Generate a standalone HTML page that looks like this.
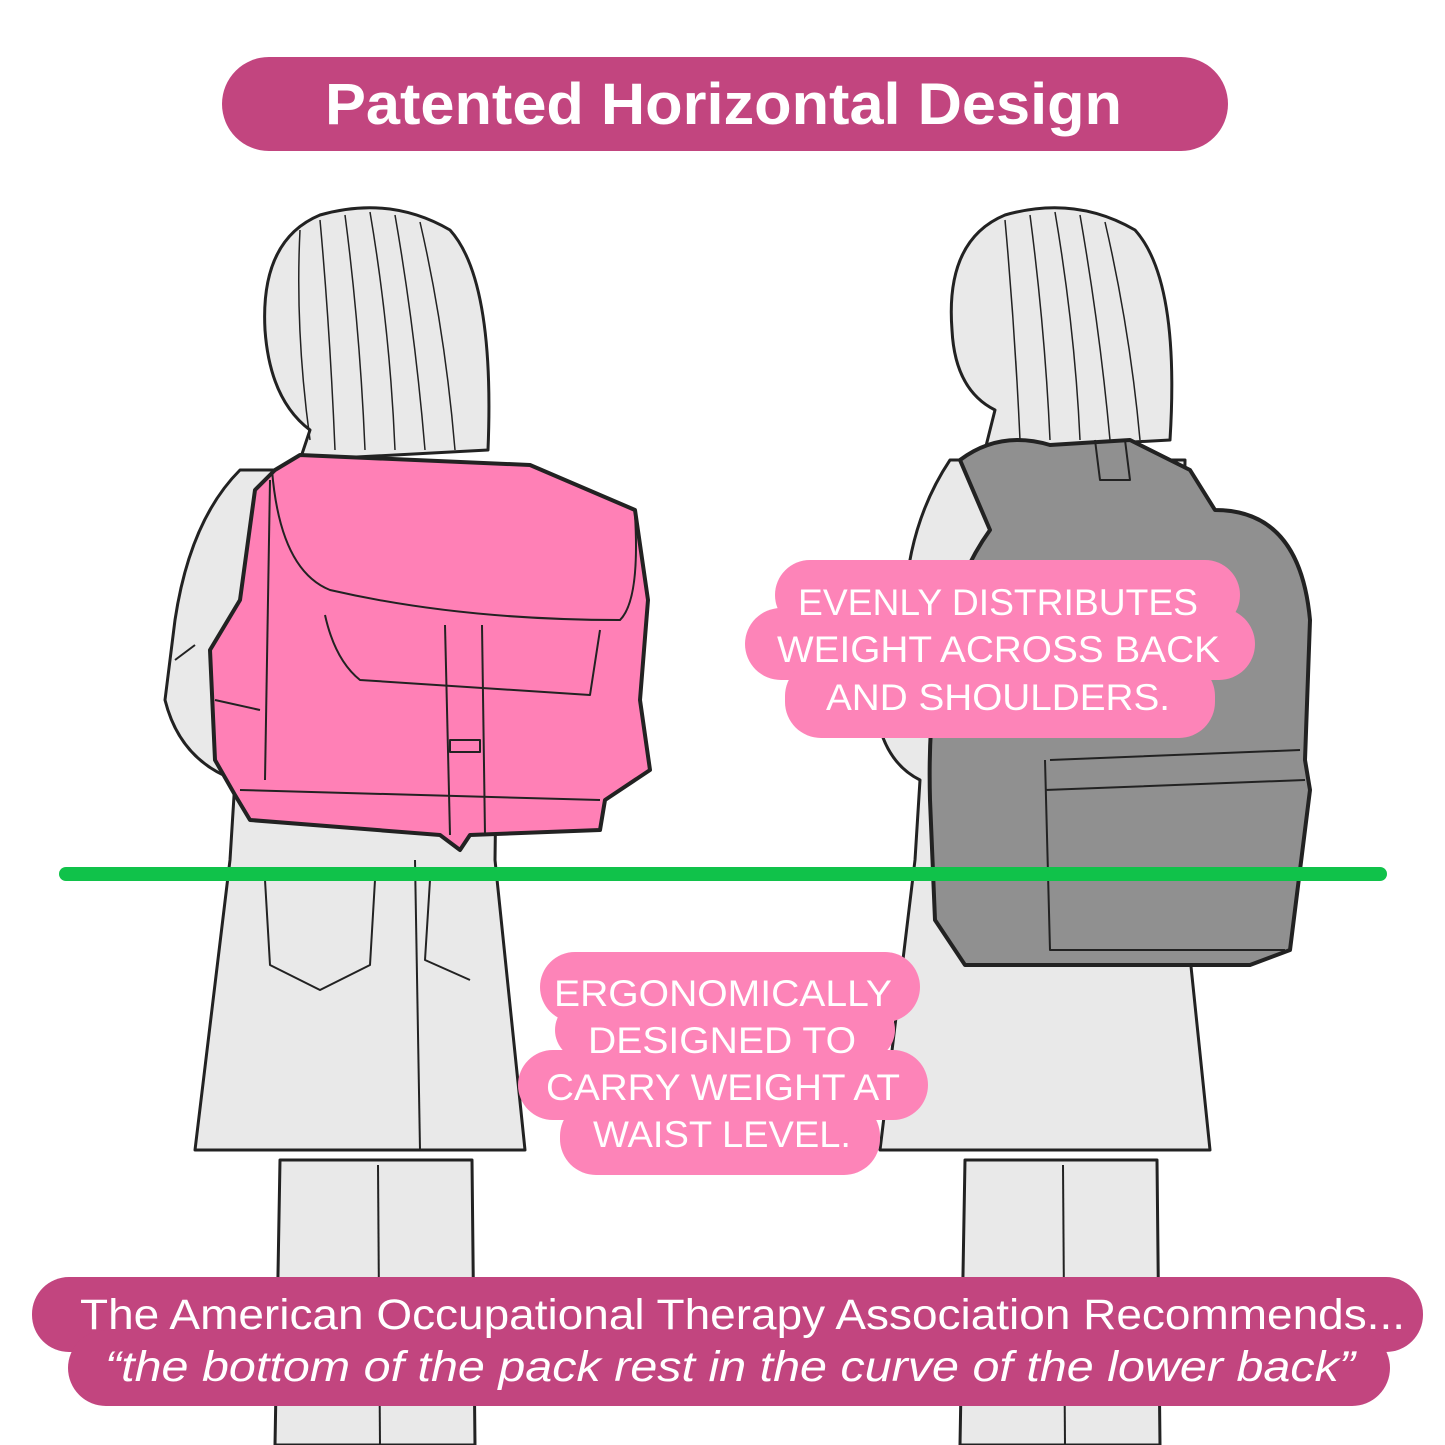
<!DOCTYPE html>
<html><head><style>
html,body{margin:0;padding:0;background:#fff;}
svg{display:block}
text{font-family:"Liberation Sans",sans-serif;}
</style></head><body>
<svg width="1445" height="1445" viewBox="0 0 1445 1445" xmlns="http://www.w3.org/2000/svg">
<rect width="1445" height="1445" fill="#fff"/>
<g stroke="#222" stroke-width="3" fill="#e9e9e9" stroke-linejoin="round">
<!-- LEFT GIRL -->
<path d="M280 1160 L275 1445 L475 1445 L472 1160 Z"/>
<line x1="378" y1="1165" x2="380" y2="1445" stroke-width="2"/>
<path d="M240 470 Q190 520 175 620 L165 700 Q180 760 235 780 L230 860 L195 1150 L525 1150 L495 860 L500 470 Z"/>
<path d="M265 880 L270 965 L320 990 L370 965 L375 880" fill="none" stroke-width="2"/>
<path d="M430 880 L425 960 L470 980" fill="none" stroke-width="2"/>
<line x1="415" y1="860" x2="420" y2="1150" stroke-width="2"/>
<path d="M310 430 Q270 400 265 330 Q260 240 320 215 Q390 195 450 230 Q495 280 488 450 L300 460 Z"/>
<g fill="none" stroke-width="1.5"><path d="M320 220 Q330 330 335 450"/><path d="M345 215 Q360 330 365 450"/><path d="M370 212 Q390 330 395 450"/><path d="M395 215 Q415 330 425 450"/><path d="M420 222 Q445 330 455 450"/><path d="M300 230 Q295 330 310 440"/></g>
<!-- pink backpack -->
<path d="M275 470 L300 455 L530 465 L635 510 L648 600 L640 700 L650 770 L605 800 L600 830 L470 835 L460 850 L440 835 L250 820 L235 795 L215 760 L210 650 L240 600 L255 490 Z" fill="#ff80b6" stroke-width="4"/>
<g fill="none" stroke-width="2"><path d="M272 470 Q280 570 330 590 Q460 620 620 620 Q640 600 635 515"/><path d="M325 615 Q335 660 360 680 L590 695 L600 630"/><path d="M445 625 L450 835"/><path d="M482 625 L485 835"/><path d="M240 790 L600 800"/><path d="M270 480 L265 780"/><rect x="450" y="740" width="30" height="12"/><path d="M215 700 L260 710"/><path d="M175 660 L195 645"/></g>
<!-- RIGHT GIRL -->
<path d="M965 1160 L960 1445 L1160 1445 L1157 1160 Z"/>
<line x1="1063" y1="1165" x2="1065" y2="1445" stroke-width="2"/>
<path d="M950 460 Q910 520 905 600 L875 700 Q880 760 920 780 L915 860 L880 1150 L1210 1150 L1180 860 L1185 460 Z"/>
<path d="M995 410 Q955 390 952 330 Q945 240 1005 215 Q1075 195 1135 230 Q1180 280 1170 440 L985 450 Z"/>
<g fill="none" stroke-width="1.5"><path d="M1005 220 Q1015 330 1020 440"/><path d="M1030 215 Q1045 330 1050 440"/><path d="M1055 212 Q1075 330 1080 440"/><path d="M1080 215 Q1100 330 1110 440"/><path d="M1105 222 Q1130 330 1140 440"/></g>
<!-- gray backpack -->
<path d="M960 460 Q1000 430 1050 445 L1130 440 L1190 470 L1215 510 Q1300 510 1310 620 L1305 760 L1310 790 L1290 950 L1250 965 L965 965 L935 920 L930 800 Q925 620 990 530 Z" fill="#909090" stroke-width="4"/>
<g fill="none" stroke-width="2"><path d="M1050 760 L1300 750 M1045 790 L1305 780 M1045 760 L1050 950 L1285 950"/><path d="M1095 440 L1100 480 L1130 480 L1125 440"/></g>
</g>
<!-- title -->
<rect x="222" y="57" width="1006" height="94" rx="47" fill="#c2457f"/>
<text x="325" y="124" fill="#fff" font-size="58" font-weight="bold" textLength="797" lengthAdjust="spacingAndGlyphs">Patented Horizontal Design</text>
<!-- green line -->
<line x1="66" y1="874" x2="1380" y2="874" stroke="#10c24a" stroke-width="14" stroke-linecap="round"/>
<!-- bubble 1 -->
<g fill="#fd84b8">
<rect x="775" y="560" width="465" height="70" rx="35"/>
<rect x="745" y="608" width="510" height="72" rx="36"/>
<rect x="785" y="660" width="430" height="78" rx="36"/>
</g>
<g fill="#fff" font-size="37">
<text x="798" y="615" textLength="400" lengthAdjust="spacingAndGlyphs">EVENLY DISTRIBUTES</text>
<text x="777" y="662" textLength="443" lengthAdjust="spacingAndGlyphs">WEIGHT ACROSS BACK</text>
<text x="826" y="710" textLength="344" lengthAdjust="spacingAndGlyphs">AND SHOULDERS.</text>
</g>
<!-- bubble 2 -->
<g fill="#fd84b8">
<rect x="540" y="952" width="380" height="70" rx="35"/>
<rect x="555" y="1000" width="340" height="60" rx="30"/>
<rect x="518" y="1050" width="410" height="70" rx="35"/>
<rect x="560" y="1100" width="320" height="75" rx="36"/>
</g>
<g fill="#fff" font-size="37">
<text x="554" y="1006" textLength="338" lengthAdjust="spacingAndGlyphs">ERGONOMICALLY</text>
<text x="588" y="1053" textLength="268" lengthAdjust="spacingAndGlyphs">DESIGNED TO</text>
<text x="546" y="1100" textLength="354" lengthAdjust="spacingAndGlyphs">CARRY WEIGHT AT</text>
<text x="593" y="1147" textLength="258" lengthAdjust="spacingAndGlyphs">WAIST LEVEL.</text>
</g>
<!-- bottom -->
<rect x="32" y="1277" width="1391" height="75" rx="37" fill="#c2457f"/>
<rect x="68" y="1330" width="1322" height="76" rx="38" fill="#c2457f"/>
<text x="80" y="1329" fill="#fff" font-size="43" textLength="1325" lengthAdjust="spacingAndGlyphs">The American Occupational Therapy Association Recommends...</text>
<text x="105" y="1381" fill="#fff" font-size="43" font-style="italic" textLength="1250" lengthAdjust="spacingAndGlyphs">“the bottom of the pack rest in the curve of the lower back”</text>
</svg>
</body></html>
